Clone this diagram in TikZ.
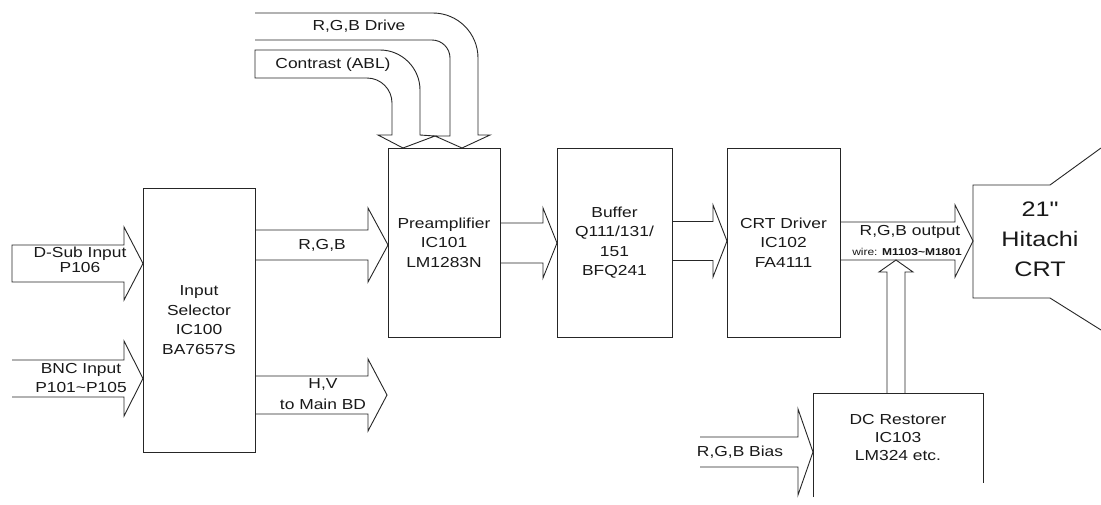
\documentclass[tikz,border=0pt]{standalone}
\usepackage{fontspec}
\setmainfont[FakeStretch=1.2]{Liberation Sans}
\newfontfamily\crtfont[FakeStretch=1.2,Ligatures=TeXOff]{Liberation Sans}
\newcommand\harr[6]{% start x, head start x, tip x, centre y, shaft half, head half
  \draw[ln] (#1,{#4-#5}) -- (#2,{#4-#5}) -- (#2,{#4-#6}) -- (#3,#4) -- (#2,{#4+#6}) -- (#2,{#4+#5}) -- (#1,{#4+#5});}
\begin{document}
\begin{tikzpicture}[x=1pt,y=-1pt,
  ln/.style={draw=black!85,line width=0.9pt,line join=miter},
  box/.style={ln,rectangle,inner sep=0pt,align=center},
  lbl/.style={inner sep=0pt,align=center},
  every node/.style={font=\fontsize{14.5}{19.5}\selectfont,text=black!90}]
\useasboundingbox (0,0) rectangle (1101,504);
\fill[white] (0,0) rectangle (1101,504);

% boxes
\node[box,minimum width=112,minimum height=264] (sel) at (199,320) {Input\\Selector\\IC100\\BA7657S};
\node[box,minimum width=112,minimum height=189] (pre) at (444,242.5) {Preamplifier\\IC101\\LM1283N};
\node[box,minimum width=115,minimum height=189] (buf) at (614.5,242.5) {Buffer\\Q111/131/\\151\\BFQ241};
\node[box,minimum width=113,minimum height=189] (drv) at (783.5,242.5) {CRT Driver\\IC102\\FA4111};
\node[lbl] (dcr) at (898,438) {DC Restorer\\[-1.5pt]IC103\\[-1.5pt]LM324 etc.};
\draw[ln] (813,497) -- (813,393) -- (983,393) -- (983,483);

% CRT
\draw[ln] (1101,148) -- (1050,185) -- (973,185) -- (973,298) -- (1050,298) -- (1101,330);
\node[lbl,font=\crtfont\fontsize{21}{30}\selectfont] (crt) at (1040,239) {21"\\Hitachi\\CRT};

% input arrows
\draw[ln] (12,245) -- (124,245) -- (124,227) -- (143,263.5) -- (124,300) -- (124,282) -- (12,282) -- cycle;
\node[lbl] (dsub) at (80,260) {D-Sub Input\\[-5pt]P106};
\harr{12}{124}{143}{378.5}{18.5}{37.5}
\node[lbl] (bnc) at (81,378) {BNC Input\\[-1pt]P101\textasciitilde P105};

% selector outputs
\harr{255}{368}{388}{245}{15}{37}
\node[lbl] (rgb) at (322,245) {R,G,B};
\harr{255}{368}{387}{395}{19}{36}
\node[lbl] (hv) at (323,394) {H,V\\[2pt]to Main BD};

% top bent arrows
\draw[ln] (255,13) -- (433,13) .. controls (457.8,13) and (478,33.2) .. (478,58) -- (478,135) -- (490,135) -- (462,148) -- (435,136) -- (450,136) -- (450,58) .. controls (450,48.1) and (441.9,40) .. (432,40) -- (255,40);
\node[lbl] (drive) at (359,26) {R,G,B Drive};
\draw[ln] (255,50) -- (380,50) .. controls (402,50) and (420,68) .. (420,90) -- (420,135) -- (435,136) -- (403,148) -- (378,135) -- (392,135) -- (392,103) .. controls (392,89.2) and (380.8,78) .. (367,78) -- (255,78) -- cycle;
\node[lbl] (abl) at (333,65) {Contrast (ABL)};

% chain arrows
\harr{500}{543}{557}{243}{20}{35}
\harr{672}{713}{727}{241}{19.5}{36}
\harr{840}{955}{973}{241}{19}{36}
\node[lbl] (out) at (910,232) {R,G,B output};
\node[lbl,font=\fontsize{10}{12}\selectfont] (wire) at (907,251.5) {wire: \textbf{M1103\textasciitilde M1801}};

% bias and restorer
\harr{700}{798}{813}{452}{15}{43}
\node[lbl] (bias) at (740,452) {R,G,B Bias};
\draw[ln] (887,393) -- (887,272) -- (879,272) -- (896,260) -- (913,272) -- (905,272) -- (905,393);
\end{tikzpicture}
\end{document}
